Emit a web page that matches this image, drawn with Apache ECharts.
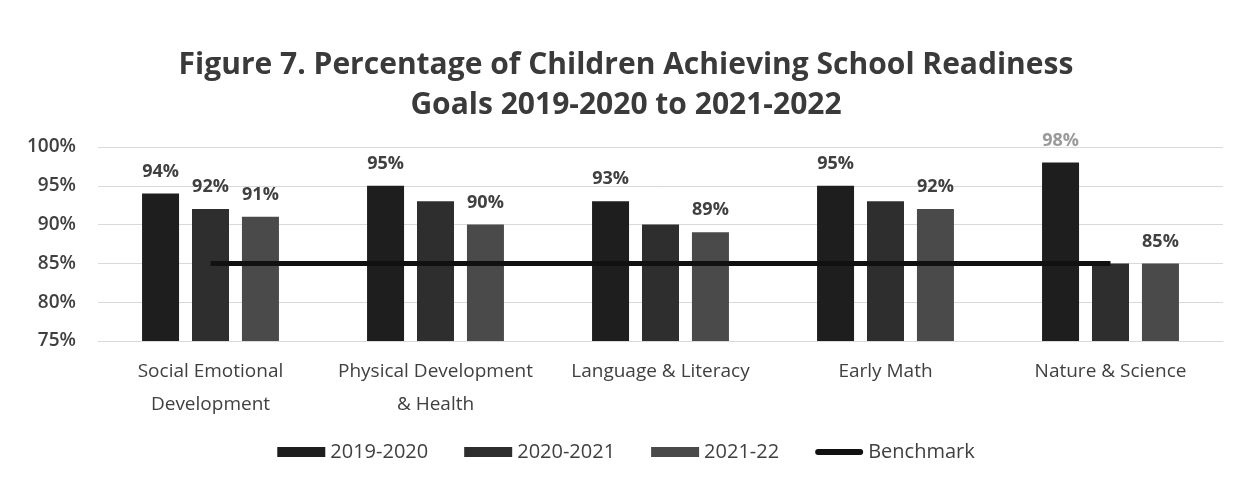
<!DOCTYPE html>
<html>
<head>
<meta charset="utf-8">
<script src="https://cdn.jsdelivr.net/npm/echarts@6/dist/echarts.min.js"></script>
<style>
  html, body { margin: 0; padding: 0; background: #ffffff; }
  #chart { width: 1252px; height: 497px; }
</style>
</head>
<body>
<div id="chart"></div>
<script>
// Readiness domains on the x axis
const categories = [
  'Social Emotional\nDevelopment',
  'Physical Development\n& Health',
  'Language & Literacy',
  'Early Math',
  'Nature & Science'
];
// Percent of children meeting each goal, per school year
const year2019 = [94, 95, 93, 95, 98];
const year2020 = [92, 93, 90, 93, 85];
const year2021 = [91, 90, 89, 92, 85];
const benchmark = [85, 85, 85, 85, 85];
// Which bars carry a value label
const labeled2019 = [true, true, true, true, true];
const labeled2020 = [true, false, false, false, false];
const labeled2021 = [true, true, true, true, true];
const yTicks = [75, 80, 85, 90, 95, 100];

const FONT = '"Open Sans", "Noto Sans", sans-serif';
const TEXT = '#404040';

function barData(values, shown, faded) {
  return values.map((v, i) => ({
    value: v,
    label: {
      show: shown[i],
      color: (faded && v >= 98) ? '#9a9a9a' : TEXT
    }
  }));
}

const labelStyle = {
  position: 'top',
  distance: 13,
  formatter: p => p.value + '%',
  fontFamily: FONT,
  fontSize: 18,
  fontWeight: 'bold',
  color: TEXT
};

function barSeries(name, values, shown, color, faded) {
  return {
    name: name,
    type: 'bar',
    barWidth: 37,
    barGap: '35%',
    itemStyle: { color: color },
    label: labelStyle,
    data: barData(values, shown, faded),
    z: 2
  };
}

const chart = echarts.init(document.getElementById('chart'), null, { renderer: 'canvas' });
chart.setOption({
  backgroundColor: '#ffffff',
  animation: false,
  title: {
    text: 'Figure 7. Percentage of Children Achieving School Readiness\nGoals 2019-2020 to 2021-2022',
    left: 'center',
    top: 40,
    textStyle: {
      fontFamily: FONT,
      fontSize: 30,
      fontWeight: 'bold',
      color: '#3a3a3a',
      lineHeight: 40
    }
  },
  legend: {
    bottom: 30,
    left: 'center',
    itemWidth: 48,
    itemHeight: 10,
    itemGap: 36,
    textStyle: { fontFamily: FONT, fontSize: 20, color: TEXT },
    data: [
      { name: '2019-2020', icon: 'rect' },
      { name: '2020-2021', icon: 'rect' },
      { name: '2021-22', icon: 'rect' },
      { name: 'Benchmark', icon: 'path://M3,0 L45,0 A3,3 0 0 1 45,6 L3,6 A3,3 0 0 1 3,0 Z' }
    ]
  },
  grid: { left: 98, right: 29, top: 147, bottom: 156 },
  xAxis: {
    type: 'category',
    data: categories,
    axisLine: { show: true, lineStyle: { color: '#d9d9d9' } },
    axisTick: { show: false },
    axisLabel: {
      interval: 0,
      hideOverlap: false,
      fontFamily: FONT,
      fontSize: 19,
      color: TEXT,
      lineHeight: 33,
      margin: 14
    }
  },
  yAxis: {
    type: 'value',
    min: yTicks[0],
    max: yTicks[yTicks.length - 1],
    interval: 5,
    axisLine: { show: false },
    axisTick: { show: false },
    splitLine: { lineStyle: { color: '#d9d9d9', width: 1 } },
    axisLabel: {
      fontFamily: FONT,
      fontSize: 19,
      fontWeight: 600,
      color: TEXT,
      margin: 22,
      formatter: v => v + '%'
    }
  },
  series: [
    barSeries('2019-2020', year2019, labeled2019, '#1e1e1e', true),
    barSeries('2020-2021', year2020, labeled2020, '#2e2e2e', false),
    barSeries('2021-22', year2021, labeled2021, '#4a4a4a', false),
    {
      name: 'Benchmark',
      type: 'line',
      data: benchmark,
      symbol: 'none',
      lineStyle: { color: '#111111', width: 5 },
      itemStyle: { color: '#111111' },
      z: 5
    }
  ]
});
</script>
</body>
</html>
